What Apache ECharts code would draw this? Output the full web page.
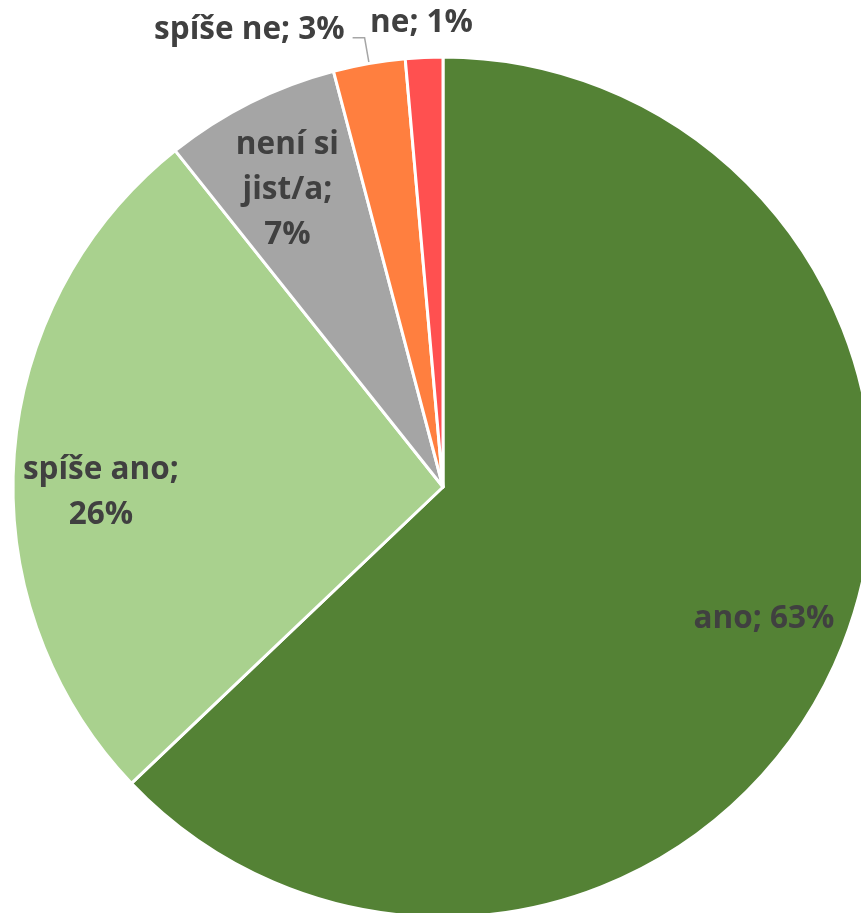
<!DOCTYPE html>
<html>
<head>
<meta charset="utf-8">
<script src="https://cdn.jsdelivr.net/npm/echarts@6/dist/echarts.min.js"></script>
<style>html,body{margin:0;padding:0;background:#fff;}#c{width:861px;height:913px;}</style>
</head>
<body>
<div id="c"></div>
<script>
const categories = ['ano', 'spíše ano', 'není si jist/a', 'spíše ne', 'ne'];
const values = [62.9, 26.4, 6.6, 2.7, 1.4];
const colors = ['#548235', '#A9D18E', '#A5A5A5', '#FF7F3F', '#FF5050'];
// how each label is wrapped (text lines of the category name, and whether the value goes on a new line)
const nameWraps = ['ano', 'spíše ano', 'není si\njist/a', 'spíše ne', 'ne'];
const valueOnNewLine = [false, true, true, false, false];

const chart = echarts.init(document.getElementById('c'), null, {renderer: 'canvas'});
const R = 430;
const font = {fontFamily: '"Open Sans", sans-serif', fontWeight: 'bold', fontSize: 31.5, color: '#404040'};
const fmt = p => nameWraps[p.dataIndex] + ';' + (valueOnNewLine[p.dataIndex] ? '\n' : ' ') + Math.round(p.value) + '%';

const baseData = categories.map((c, i) => {
  const d = {name: c, value: values[i], itemStyle: {color: colors[i]}};
  if (i >= 3) {
    d.label = {show: true, position: 'outside'};
    d.labelLine = {show: i === 3};
  } else {
    d.label = {show: false};
    d.labelLine = {show: false};
  }
  return d;
});
const overlayData = categories.map((c, i) => ({name: c, value: values[i], label: {show: i < 3}}));

chart.setOption({
  animation: false,
  backgroundColor: '#fff',
  series: [
    {
      type: 'pie',
      center: [443, 487],
      radius: [0, R],
      startAngle: 90,
      clockwise: true,
      avoidLabelOverlap: false,
      itemStyle: {borderColor: '#fff', borderWidth: 3},
      label: Object.assign({formatter: fmt, position: 'outside'}, font),
      labelLine: {length: 26, length2: 12, smooth: false, lineStyle: {color: '#A6A6A6', width: 1.5}},
      labelLayout: function (p) {
        if (p.dataIndex === 4) return {dx: 67, dy: -8};
        if (p.dataIndex === 3) return {dx: -3, dy: -8};
      },
      emphasis: {disabled: true},
      data: baseData
    },
    {
      type: 'pie',
      center: [443, 487],
      radius: [R * 0.6, R],
      startAngle: 90,
      clockwise: true,
      silent: true,
      itemStyle: {color: 'rgba(0,0,0,0)', borderWidth: 0},
      label: Object.assign({formatter: fmt, position: 'inside', lineHeight: 45, align: 'center'}, font),
      labelLine: {show: false},
      labelLayout: function (p) {
        if (p.dataIndex === 0) return {dx: 2, dy: -5};
        if (p.dataIndex === 1) return {dx: 4, dy: 29};
        if (p.dataIndex === 2) return {dy: 13};
      },
      emphasis: {disabled: true},
      data: overlayData
    }
  ]
});
</script>
</body>
</html>
